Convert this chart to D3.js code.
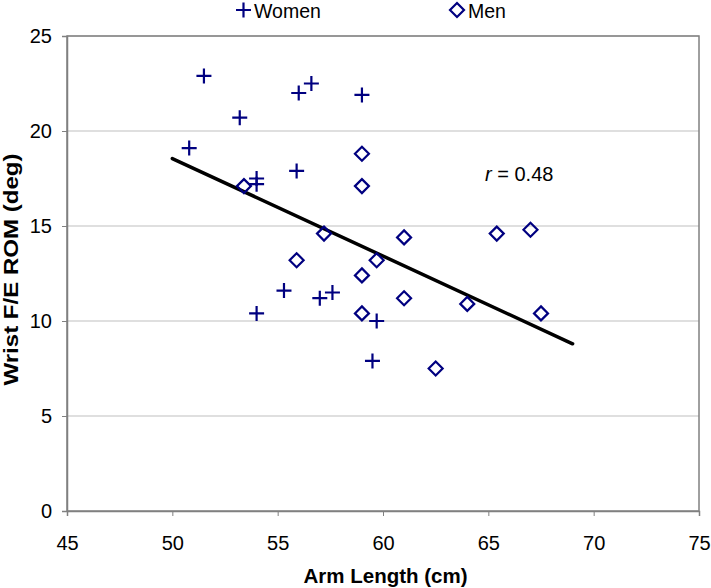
<!DOCTYPE html>
<html><head><meta charset="utf-8">
<script src="https://cdn.jsdelivr.net/npm/d3@7"></script>
<style>body{margin:0;background:#fff}text{font-family:"Liberation Sans",Arial,sans-serif}</style>
</head><body>
<svg id="c" width="711" height="588"></svg>
<script>
const womenX = [51.5, 53.2, 56.6, 56.0, 59.0, 50.8, 55.9, 54.0, 54.0, 55.3, 54.0, 57.0, 57.6, 59.7, 59.5];
const womenY = [22.9, 20.7, 22.5, 22.0, 21.9, 19.1, 17.9, 17.5, 17.2, 11.6, 10.4, 11.2, 11.5, 10.0, 7.9];
const menX = [53.4, 59.0, 59.0, 57.2, 55.9, 59.0, 59.7, 61.0, 61.0, 59.0, 62.5, 65.4, 67.0, 64.0, 67.5];
const menY = [17.1, 18.8, 17.1, 14.6, 13.2, 12.4, 13.2, 14.4, 11.2, 10.4, 7.5, 14.6, 14.8, 10.9, 10.4];
const trendX = [50, 69];
const trendY = [18.55, 8.8];
const xTicks = [45, 50, 55, 60, 65, 70, 75];
const yTicks = [0, 5, 10, 15, 20, 25];
const seriesNames = ["Women", "Men"];
const rLabel = "0.48";

const svg = d3.select("#c");
const L = 67, R = 699, T = 36, B = 511;
const x = d3.scaleLinear().domain([45, 75]).range([L, R]);
const y = d3.scaleLinear().domain([0, 25]).range([B, T]);
const navy = "#000080";

// gridlines
svg.append("g").selectAll("line").data(yTicks.filter(d => d > 0)).join("line")
  .attr("x1", L).attr("x2", R).attr("y1", d => y(d)).attr("y2", d => y(d))
  .attr("stroke", "#d4d4d4").attr("stroke-width", 1.5);

// plot border
svg.append("rect").attr("x", L).attr("y", T).attr("width", R - L).attr("height", B - T)
  .attr("fill", "none").attr("stroke", "#808080").attr("stroke-width", 1.5);

// axes
const xa = svg.append("g").attr("transform", `translate(0,${B})`)
  .call(d3.axisBottom(x).tickValues(xTicks).tickSize(5).tickPadding(20).tickFormat(d3.format("d")));
const ya = svg.append("g").attr("transform", `translate(${L},0)`)
  .call(d3.axisLeft(y).tickValues(yTicks).tickSize(5).tickPadding(10).tickFormat(d3.format("d")));
[xa, ya].forEach(a => {
  a.select(".domain").attr("stroke", "#808080").attr("stroke-width", 1.5);
  a.selectAll(".tick line").attr("stroke", "#808080").attr("stroke-width", 1);
  a.selectAll("text").attr("font-size", 20).attr("fill", "#000")
    .style("font-family", '"Liberation Sans",Arial,sans-serif');
});

// axis titles
svg.append("text").attr("x", 385.5).attr("y", 583).attr("text-anchor", "middle")
  .attr("font-size", 20.5).attr("font-weight", "bold").text("Arm Length (cm)");
svg.append("text").attr("transform", `translate(17.5,269.5) rotate(-90)`)
  .attr("text-anchor", "middle").attr("font-size", 20).attr("font-weight", "bold")
  .attr("textLength", 232).attr("lengthAdjust", "spacingAndGlyphs")
  .text("Wrist F/E ROM (deg)");

// trend line
svg.append("line").attr("x1", x(trendX[0])).attr("y1", y(trendY[0]))
  .attr("x2", x(trendX[1])).attr("y2", y(trendY[1]))
  .attr("stroke", "#000").attr("stroke-width", 3.5).attr("stroke-linecap", "round");

const plusPath = "M-7.5,0H7.5M0,-7.5V7.5";
const diamondPath = "M0,-7L7,0L0,7L-7,0Z";

// women
svg.append("g").selectAll("path").data(womenX.map((d, i) => [d, womenY[i]])).join("path")
  .attr("transform", d => `translate(${x(d[0])},${y(d[1])})`)
  .attr("d", plusPath).attr("stroke", navy).attr("stroke-width", 2.2).attr("fill", "none");
// men
svg.append("g").selectAll("path").data(menX.map((d, i) => [d, menY[i]])).join("path")
  .attr("transform", d => `translate(${x(d[0])},${y(d[1])})`)
  .attr("d", diamondPath).attr("stroke", navy).attr("stroke-width", 2.2).attr("fill", "none");

// r label
const rt = svg.append("text").attr("x", 485).attr("y", 181).attr("font-size", 20);
rt.append("tspan").attr("font-style", "italic").text("r");
rt.append("tspan").text(" = " + rLabel);

// legend
const lg = svg.append("g");
lg.append("path").attr("transform", "translate(243.5,10)").attr("d", plusPath)
  .attr("stroke", navy).attr("stroke-width", 2.2).attr("fill", "none");
lg.append("text").attr("x", 254).attr("y", 18).attr("font-size", 19.5).text(seriesNames[0]);
lg.append("path").attr("transform", "translate(457,10)").attr("d", diamondPath)
  .attr("stroke", navy).attr("stroke-width", 2.2).attr("fill", "none");
lg.append("text").attr("x", 468).attr("y", 18).attr("font-size", 19.5).text(seriesNames[1]);
</script>
</body></html>
